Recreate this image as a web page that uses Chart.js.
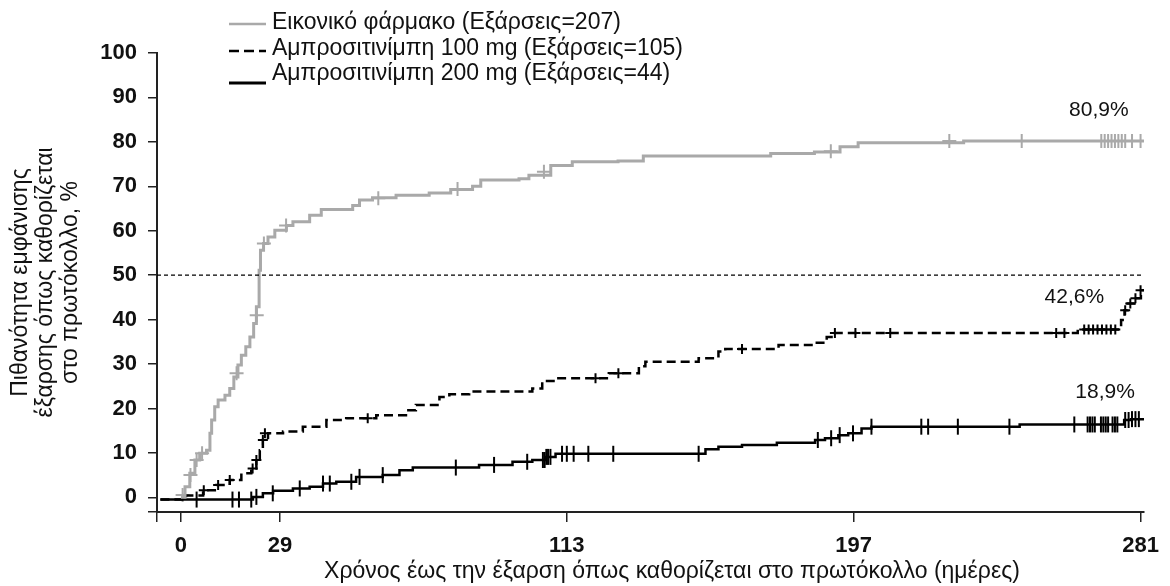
<!DOCTYPE html>
<html>
<head>
<meta charset="utf-8">
<script src="https://cdn.jsdelivr.net/npm/chart.js@4.4.1/dist/chart.umd.min.js"></script>
<style>
  html, body { margin: 0; padding: 0; background: #fff; }
  #wrap { width: 1170px; height: 586px; }
</style>
</head>
<body>
<div id="wrap"><canvas id="km"></canvas></div>
<script>
// --- data (days, cumulative %) ---
const seriesLabels = [
  "Εικονικό φάρμακο (Εξάρσεις=207)",
  "Αμπροσιτινίμπη 100 mg (Εξάρσεις=105)",
  "Αμπροσιτινίμπη 200 mg (Εξάρσεις=44)"
];

const placeboDays = [0, 1.2, 2.6, 4.1, 5.5, 7.5, 8.5, 9.0, 9.9, 10.9, 12.9, 14.3, 15.5, 16.7, 17.7, 19.0, 20.2, 21.3, 22.1, 22.9, 23.3, 24.2, 25.5, 27.5, 30.9, 32.8, 37.7, 41.1, 50.3, 52.3, 56.1, 63.0, 72.7, 79.0, 85.4, 87.8, 99.0, 101.9, 108.3, 114.6, 128.0, 135.4, 172.7, 185.5, 193.0, 198.3, 229.2, 282];
const placeboPct  = [0, 2.4, 5.4, 8.4, 9.9, 10.6, 14.4, 17.4, 20.4, 21.9, 23.0, 24.5, 27.1, 29.8, 32.0, 33.9, 36.1, 39.1, 42.9, 51.1, 55.6, 57.1, 58.6, 60.1, 61.2, 62.0, 63.5, 64.8, 65.7, 66.9, 67.4, 68.0, 68.5, 69.3, 70.0, 71.4, 71.7, 72.5, 74.7, 75.5, 75.7, 76.8, 77.4, 77.7, 78.9, 79.8, 80.2, 80.2];
const placeboCensorDays = [0.5, 2.8, 4.6, 6.2, 16.3, 22.2, 24.3, 30.8, 57.8, 81.0, 106.3, 190.3, 225.0, 246.2, 269.5, 270.5, 271.5, 272.5, 273.5, 274.5, 275.5, 276.5, 278.5, 281.0];
const placeboCensorPct  = [0.5, 5.0, 8.4, 9.9, 27.9, 41.0, 57.1, 61.2, 67.3, 69.4, 73.3, 77.9, 80.2, 80.2, 80.2, 80.2, 80.2, 80.2, 80.2, 80.2, 80.2, 80.2, 80.2, 80.2];

const dose100Days = [-6, 1.5, 6.5, 10.4, 14.3, 17.7, 20.6, 22.1, 23.1, 24.0, 25.5, 29.9, 35.7, 42.6, 48.4, 57.2, 65.9, 68.8, 75.7, 78.6, 84.4, 102.9, 105.8, 109.7, 125.3, 134.1, 136.0, 151.6, 157.4, 159.4, 175.0, 186.2, 189.1, 191.0, 262.6, 275.3, 276.3, 277.2, 279.2, 281.1, 282];
const dose100Pct  = [-0.5, 0.4, 1.6, 2.8, 3.9, 5.4, 6.5, 8.4, 10.6, 12.9, 14.4, 14.8, 15.9, 17.4, 17.8, 18.5, 19.6, 20.8, 22.6, 23.2, 23.8, 24.5, 26.2, 26.8, 27.9, 29.5, 30.5, 31.3, 32.8, 33.4, 34.3, 34.8, 36.1, 37.0, 37.8, 39.9, 42.1, 43.6, 44.8, 46.6, 46.6];
const dose100CensorDays = [6.7, 10.9, 14.3, 21.0, 22.1, 24.0, 24.6, 54.7, 121.4, 128.1, 164.3, 191.5, 197.5, 207.7, 256.3, 258.7, 264.5, 265.8, 267.1, 268.4, 269.7, 271.0, 272.3, 273.6, 276.5, 278.0, 279.5, 281.0];
const dose100CensorPct  = [1.6, 2.8, 3.9, 6.5, 8.4, 12.9, 14.4, 17.8, 26.8, 27.9, 33.4, 37.0, 37.0, 37.0, 37.0, 37.0, 37.8, 37.8, 37.8, 37.8, 37.8, 37.8, 37.8, 37.8, 42.1, 43.6, 44.8, 46.6];

const dose200Days = [-6, 21.1, 24.0, 27.0, 32.8, 37.7, 41.6, 45.5, 51.3, 59.1, 64.0, 67.9, 87.3, 97.1, 102.9, 106.8, 109.7, 153.6, 157.4, 164.3, 174.5, 185.7, 188.6, 192.5, 195.4, 199.3, 202.2, 245.6, 276.2, 278.2, 282];
const dose200Pct  = [-0.5, 0.1, 0.9, 1.5, 2.0, 2.4, 3.1, 3.5, 4.6, 5.0, 6.1, 6.7, 7.3, 8.0, 8.4, 9.1, 9.8, 10.8, 11.4, 11.8, 12.3, 12.9, 13.3, 14.0, 14.4, 15.5, 15.9, 16.4, 17.4, 17.6, 17.6];
const dose200CensorDays = [4.6, 15.1, 17.0, 20.6, 22.1, 26.9, 34.8, 41.6, 43.6, 49.9, 52.3, 59.1, 80.5, 91.7, 101.4, 106.0, 106.5, 107.0, 107.5, 108.2, 111.6, 113.0, 115.0, 119.3, 126.6, 151.6, 186.5, 190.4, 192.9, 196.8, 202.2, 216.8, 218.8, 227.5, 242.6, 261.6, 265.5, 266.2, 266.9, 267.6, 269.4, 270.1, 270.8, 271.5, 272.8, 273.5, 274.2, 276.5, 277.5, 278.5, 279.5, 280.5];
const dose200CensorPct  = [-0.5, -0.5, -0.5, -0.5, 0.1, 0.9, 2.0, 3.1, 3.1, 3.5, 4.6, 5.0, 6.7, 7.3, 8.0, 8.4, 8.4, 9.1, 9.1, 9.1, 9.8, 9.8, 9.8, 9.8, 9.8, 9.8, 12.9, 13.3, 14.0, 14.4, 15.9, 15.9, 15.9, 15.9, 15.9, 16.4, 16.4, 16.4, 16.4, 16.4, 16.4, 16.4, 16.4, 16.4, 16.4, 16.4, 16.4, 17.4, 17.4, 17.6, 17.6, 17.6];

const medianLine = 50;
const xTicks = [0, 29, 113, 197, 281];
const yTicks = [0, 10, 20, 30, 40, 50, 60, 70, 80, 90, 100];
const xMin = -7, xMax = 282, yMin = -3.3, yMax = 100;

const endLabels = [
  { text: "80,9%", day: 268.8, pct: 87.1 },
  { text: "42,6%", day: 261.6, pct: 45.0 },
  { text: "18,9%", day: 270.6, pct: 23.7 }
];
const xTitle = "Χρόνος έως την έξαρση όπως καθορίζεται στο πρωτόκολλο (ημέρες)";
const yTitle = ["Πιθανότητα εμφάνισης", "έξαρσης όπως καθορίζεται", "στο πρωτόκολλο, %"];

function pts(xs, ys) {
  return xs.map((x, i) => ({ x: x, y: ys[i] }));
}

const GREY = "#a9a9a9";
const INK = "#111";
const FONT = "'Liberation Sans', Arial, sans-serif";

const overlay = {
  id: "overlay",
  afterDraw(chart) {
    const ctx = chart.ctx;
    const xs = chart.scales.x, ys = chart.scales.y;
    ctx.save();
    // legend block at the top
    const rows = [
      { color: GREY, dash: [], width: 2.5, lineY: 24, textY: 23 },
      { color: "#000", dash: [10, 5], width: 2.5, lineY: 51, textY: 48.5 },
      { color: "#000", dash: [], width: 3, lineY: 83, textY: 74 }
    ];
    rows.forEach((r, i) => {
      ctx.beginPath();
      ctx.setLineDash(r.dash);
      ctx.strokeStyle = r.color;
      ctx.lineWidth = r.width;
      ctx.moveTo(229, r.lineY);
      ctx.lineTo(266, r.lineY);
      ctx.stroke();
      ctx.setLineDash([]);
      ctx.fillStyle = INK;
      ctx.font = "23px " + FONT;
      ctx.textAlign = "left";
      ctx.textBaseline = "middle";
      ctx.fillText(seriesLabels[i], 272, r.textY);
    });
    // end-of-curve percentages
    ctx.font = "21px " + FONT;
    ctx.textAlign = "center";
    endLabels.forEach(l => {
      ctx.fillText(l.text, xs.getPixelForValue(l.day), ys.getPixelForValue(l.pct));
    });
    // x axis title
    ctx.font = "23px " + FONT;
    ctx.fillText(xTitle, 672, 572);
    ctx.restore();
  }
};

new Chart(document.getElementById("km"), {
  type: "line",
  data: {
    datasets: [
      {
        data: pts([xMin, xMax], [medianLine, medianLine]),
        borderColor: "#000", borderWidth: 1.2, borderDash: [4, 3], pointRadius: 0
      },
      {
        data: pts(placeboDays, placeboPct),
        borderColor: GREY, borderWidth: 3, stepped: true, pointRadius: 0
      },
      {
        data: pts(dose100Days, dose100Pct),
        borderColor: "#000", borderWidth: 2.5, borderDash: [9, 5], stepped: true, pointRadius: 0
      },
      {
        data: pts(dose200Days, dose200Pct),
        borderColor: "#000", borderWidth: 2.5, stepped: true, pointRadius: 0
      },
      {
        data: pts(placeboCensorDays, placeboCensorPct),
        showLine: false, pointStyle: "cross", pointRadius: 7, pointBorderWidth: 2,
        pointBorderColor: GREY, borderColor: GREY
      },
      {
        data: pts(dose100CensorDays, dose100CensorPct),
        showLine: false, pointStyle: "cross", pointRadius: 5, pointBorderWidth: 2,
        pointBorderColor: "#000", borderColor: "#000"
      },
      {
        data: pts(dose200CensorDays, dose200CensorPct),
        showLine: false, pointStyle: "line", pointRotation: 90, pointRadius: 8, pointBorderWidth: 2,
        pointBorderColor: "#000", borderColor: "#000"
      }
    ]
  },
  options: {
    responsive: true,
    maintainAspectRatio: false,
    animation: false,
    layout: { padding: { top: 53, right: 25, left: 0, bottom: 0 } },
    plugins: { legend: { display: false }, tooltip: { enabled: false } },
    scales: {
      x: {
        type: "linear",
        min: xMin,
        max: xMax,
        afterBuildTicks: s => { s.ticks = [xMin].concat(xTicks).map(v => ({ value: v })); },
        afterFit: s => { s.height = 74; },
        ticks: {
          autoSkip: false,
          maxRotation: 0,
          padding: 11,
          color: INK,
          font: { family: FONT, size: 22, weight: "bold" },
          callback: v => (v === xMin ? "" : String(v))
        },
        grid: { drawOnChartArea: false, drawTicks: true, tickLength: 10, color: "#222", lineWidth: 1.5 },
        border: { color: "#222", width: 2 }
      },
      y: {
        type: "linear",
        min: yMin,
        max: yMax,
        afterBuildTicks: s => { s.ticks = [yMin].concat(yTicks).map(v => ({ value: v })); },
        afterFit: s => { s.width = 157; },
        ticks: {
          padding: 11,
          color: INK,
          font: { family: FONT, size: 22, weight: "bold" },
          callback: v => (v === yMin ? "" : String(v))
        },
        grid: { drawOnChartArea: false, drawTicks: true, tickLength: 9, color: "#222", lineWidth: 1.5 },
        border: { color: "#222", width: 2 },
        title: {
          display: true,
          text: yTitle,
          color: INK,
          font: { family: FONT, size: 23, lineHeight: "25px" },
          padding: { top: 8, bottom: 0 }
        }
      }
    }
  },
  plugins: [overlay]
});
</script>
</body>
</html>
